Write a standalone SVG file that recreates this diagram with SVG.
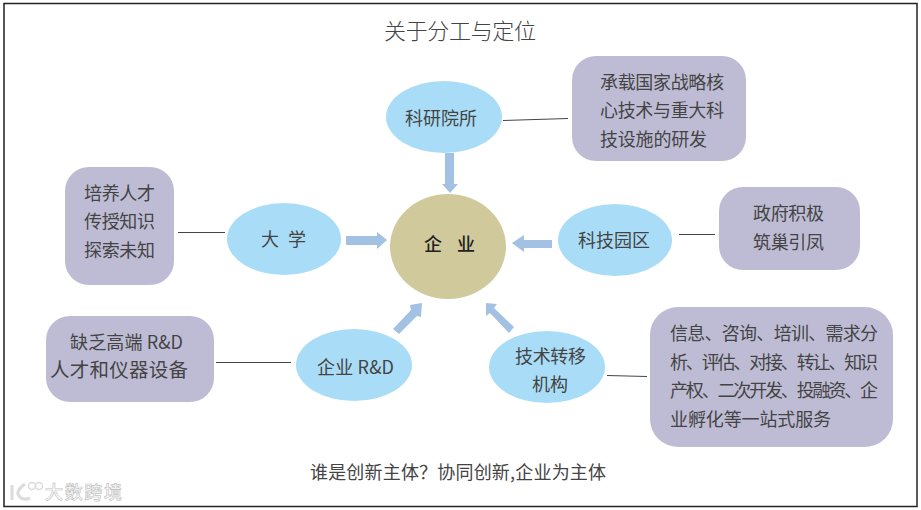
<svg xmlns="http://www.w3.org/2000/svg" width="921" height="510" viewBox="0 0 921 510">
<defs><style>
text{font-family:"Noto Sans CJK SC","Noto Sans",sans-serif;fill:#444;font-size:18px;font-weight:400}
.b{fill:#a9dcf6}.g{fill:#bebcd4}.c{stroke:#444;stroke-width:1;fill:none}.a{fill:#a3c1e2}
</style></defs>
<rect x="4" y="3.500" width="913" height="503" fill="#fff" stroke="#222" stroke-width="1.500"/>
<text x="384" y="39" textLength="152" style="font-size:22px;font-weight:300">关于分工与定位</text>
<g id="connectors">
<path class="c" d="M503 120.500L568 118.500M178 232.500H225M679 234.500H715M216 362.500H291M607 375.500L647 376.500"/>
<path class="a" d="M445 153h9v31h4l-8 9-8-9h3z"/>
<path class="a" d="M346 236h31v-4l10 8-10 9v-4h-31z"/>
<path class="a" d="M552 240v8h-28v4l-12-9 12-8v5z"/>
<path class="a" d="M393 329l18-19-1-5 12-2-1 14-4-1-18 18z"/>
<path class="a" d="M486 303l11 1-3 4 20 19-5 6-19-20-4 3z"/>
</g>
<g id="center"><ellipse cx="448" cy="246.500" rx="58" ry="52.500" fill="#cfc99c"/><text x="424 457" y="251" style="fill:#222;font-weight:500">企业</text></g>
<g id="research"><ellipse cx="444" cy="117" rx="58" ry="36" class="b"/><text x="405" y="125" textLength="72">科研院所</text></g>
<g id="university"><ellipse cx="284" cy="239" rx="57" ry="36" class="b"/><text x="261 288" y="246">大学</text></g>
<g id="park"><ellipse cx="615" cy="240" rx="57" ry="36" class="b"/><text x="578" y="247" textLength="72">科技园区</text></g>
<g id="rnd"><ellipse cx="354" cy="365" rx="58" ry="36" class="b"/><text x="317" y="374" textLength="77">企业 R&amp;D</text></g>
<g id="transfer"><ellipse cx="547" cy="367" rx="58" ry="36" class="b"/><text x="515" y="363" textLength="71">技术转移</text><text x="532" y="391">机构</text></g>
<g id="box-research"><rect x="572" y="56" width="174" height="105" rx="24" class="g"/><text x="600" y="89" textLength="124">承载国家战略核</text><text x="600" y="117" textLength="124">心技术与重大科</text><text x="600" y="146" textLength="107">技设施的研发</text></g>
<g id="box-university"><rect x="65" y="167" width="109" height="118" rx="24" class="g"/><text x="84" y="200" textLength="71">培养人才</text><text x="84" y="228" textLength="71">传授知识</text><text x="84" y="257" textLength="71">探索未知</text></g>
<g id="box-park"><rect x="719" y="187" width="141" height="83" rx="24" class="g"/><text x="753" y="220" textLength="71">政府积极</text><text x="753" y="249" textLength="71">筑巢引凤</text></g>
<g id="box-rnd"><rect x="46" y="316" width="168" height="86" rx="24" class="g"/><text x="70" y="349" textLength="113">缺乏高端 R&amp;D</text><text x="50" y="377" textLength="138" style="font-size:19.500px">人才和仪器设备</text></g>
<g id="box-transfer"><rect x="650" y="307" width="243" height="140" rx="28" class="g"/>
<text x="670" y="340" textLength="208">信息、咨询、培训、需求分</text>
<text x="670" y="369" textLength="208">析、评估、对接、转让、知识</text>
<text x="670" y="397" textLength="208">产权、二次开发、投融资、企</text>
<text x="670" y="426" textLength="161">业孵化等一站式服务</text></g>
<text x="310" y="479" textLength="296">谁是创新主体？协同创新,企业为主体</text>
<text x="45" y="499" textLength="77" style="fill:#fff;stroke:#c4c4c4;stroke-width:.7;font-weight:500">大数跨境</text>
<g fill="none" stroke="#dcdcdc" stroke-width="3"><path d="M12 485v15M25 484q-10 7-6 12q4 5 11 2"/><circle cx="32" cy="486" r="3.500" stroke-width="1.500"/><circle cx="39" cy="486" r="3.500" stroke-width="1.500"/></g>
</svg>
